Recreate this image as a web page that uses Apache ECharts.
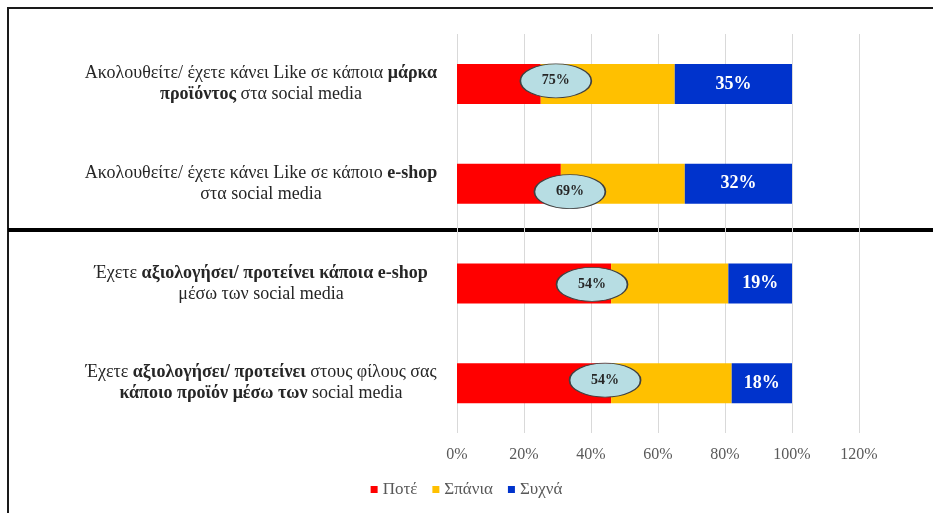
<!DOCTYPE html>
<html>
<head>
<meta charset="utf-8">
<title>Social media</title>
<script src="https://cdn.jsdelivr.net/npm/echarts@6/dist/echarts.min.js"></script>
<style>
  html, body { margin: 0; padding: 0; background: #fff; }
  #chart { width: 933px; height: 513px; }
</style>
</head>
<body>
<div id="chart"></div>
<script>
// categories, top to bottom ({b|...} = bold part)
const categories = [
  'Ακολουθείτε/ έχετε κάνει Like σε κάποια {b|μάρκα}\n{b|προϊόντος} στα social media',
  'Ακολουθείτε/ έχετε κάνει Like σε κάποιο {b|e-shop}\nστα social media',
  'Έχετε {b|αξιολογήσει/ προτείνει κάποια e-shop}\nμέσω των social media',
  'Έχετε {b|αξιολογήσει/ προτείνει} στους φίλους σας\n{b|κάποιο προϊόν μέσω των} social media'
]

const pote = [25, 31, 46, 46]
const spania = [40, 37, 35, 36]
const sychna = [35, 32, 19, 18]

// callout ellipses: text and where they sit on the value axis
const calloutText = ['75%', '69%', '54%', '54%']
const calloutAt = [29.5, 33.7, 40.3, 44.2]

const xTicks = [0, 20, 40, 60, 80, 100, 120]

const serif = 'Liberation Serif'
// small vertical nudges of the ellipses, px
const calloutShift = [-3, 8, 1, -3]

const chart = echarts.init(document.getElementById('chart'))

const barSeries = (name, data, color, label) => ({
  name,
  type: 'bar',
  stack: 'total',
  barWidth: 40,
  data,
  itemStyle: { color },
  label: label || { show: false },
  silent: true
})

chart.setOption({
  animation: false,
  textStyle: { fontFamily: serif },
  grid: { left: 457, right: 74, top: 34, bottom: 80 },
  legend: {
    bottom: 10,
    left: 'center',
    itemWidth: 7,
    itemHeight: 7,
    itemGap: 15,
    icon: 'rect',
    textStyle: { fontFamily: serif, fontSize: 17, color: '#595959' },
    data: ['Ποτέ', 'Σπάνια', 'Συχνά']
  },
  xAxis: {
    type: 'value',
    min: xTicks[0],
    max: xTicks[xTicks.length - 1],
    interval: 20,
    axisLine: { show: false },
    axisTick: { show: false },
    splitLine: { lineStyle: { color: '#d9d9d9', width: 1 } },
    axisLabel: {
      formatter: '{value}%',
      margin: 14,
      fontFamily: serif,
      fontSize: 16,
      color: '#595959'
    }
  },
  yAxis: {
    type: 'category',
    inverse: true,
    data: categories,
    axisLine: { show: false },
    axisTick: { show: false },
    axisLabel: {
      align: 'center',
      margin: 196,
      fontFamily: serif,
      fontSize: 18,
      lineHeight: 21,
      color: '#262626',
      rich: {
        b: { fontWeight: 'bold', fontFamily: serif, fontSize: 18, lineHeight: 21, color: '#262626' }
      }
    }
  },
  series: [
    barSeries('Ποτέ', pote, '#ff0000'),
    barSeries('Σπάνια', spania, '#ffc000'),
    barSeries('Συχνά', sychna, '#0033cc', {
      show: true,
      position: 'inside',
      formatter: '{c}%',
      color: '#ffffff',
      fontFamily: serif,
      fontWeight: 'bold',
      fontSize: 18
    }),
    {
      type: 'scatter',
      silent: true,
      symbol: 'circle',
      symbolSize: [71, 34],
      z: 5,
      data: calloutAt.map((v, i) => ({
        value: [v, i],
        symbolOffset: [0, calloutShift[i]],
        name: calloutText[i]
      })),
      itemStyle: { color: '#b7dde3', borderColor: '#404040', borderWidth: 1.2, opacity: 1 },
      label: {
        show: true,
        position: 'inside',
        formatter: p => p.name,
        color: '#262626',
        fontFamily: serif,
        fontWeight: 'bold',
        fontSize: 14
      }
    }
  ],
  graphic: [
    { type: 'rect', shape: { x: 8, y: 8, width: 940, height: 520 }, style: { fill: null, stroke: '#1a1a1a', lineWidth: 2 }, silent: true },
    { type: 'rect', shape: { x: 8, y: 228, width: 930, height: 4 }, style: { fill: '#000000' }, silent: true }
  ]
})
</script>
</body>
</html>
